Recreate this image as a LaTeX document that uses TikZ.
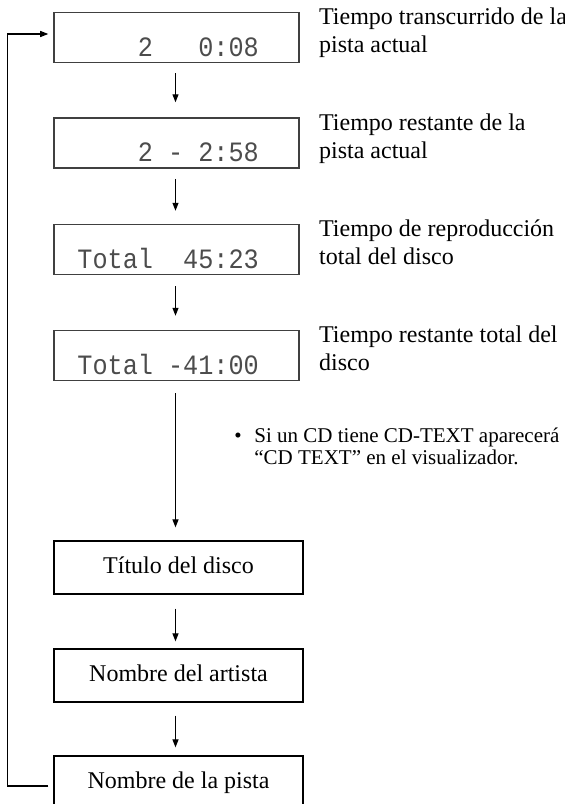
\documentclass[tikz,border=0pt]{standalone}
\usepackage{fontspec}
\setmainfont{Liberation Serif}
\newfontfamily\lcdfont[FakeStretch=0.9]{Liberation Mono}
\usetikzlibrary{arrows.meta}
\begin{document}
\begin{tikzpicture}[x=0.5bp,y=-0.5bp,
  lcdbox/.style={draw=black!75, line width=0.75bp, minimum width=122.5bp, minimum height=25bp, inner sep=0},
  txtbox/.style={draw, line width=0.65bp, minimum width=124.5bp, minimum height=26.5bp, inner sep=0,
    font=\fontsize{12bp}{14bp}\selectfont, text height=8.4bp, text depth=2.4bp},
  lab/.style={anchor=north west, inner sep=0, align=left, font=\fontsize{12bp}{14bp}\selectfont},
  lcd/.style={anchor=base west, inner sep=0, font=\lcdfont\fontsize{14bp}{14bp}\selectfont, text=black!70},
  notetext/.style={anchor=north west, inner sep=0, align=left, font=\fontsize{10.5bp}{11bp}\selectfont},
  arr/.style={line width=0.6bp, -{Triangle[length=4bp,width=3bp]}},
]
\useasboundingbox (0,0) rectangle (565,804);
\clip (0,0) rectangle (565,804);

% boxes
\node[lcdbox] (b1) at (176.5,37.5) {};
\node[lcdbox] (b2) at (176.5,143) {};
\node[lcdbox] (b3) at (176.5,249.5) {};
\node[lcdbox] (b4) at (176.5,355.5) {};
\node[txtbox] (b5) at (178.5,567.5) {Título del disco};
\node[txtbox] (b6) at (178.5,675.5) {Nombre del artista};
\node[txtbox] (b7) at (178.5,782.5) {Nombre de la pista};

% LCD texts
\coordinate (lx) at (77,0);
\node[lcd] (t1) at ([yshift=3.5bp]b1.south -| lx) {~~~~2~~~0:08};
\node[lcd] (t2) at ([yshift=3.5bp]b2.south -| lx) {~~~~2~-~2:58};
\node[lcd] (t3) at ([yshift=3.5bp]b3.south -| lx) {Total~~45:23};
\node[lcd] (t4) at ([yshift=3.5bp]b4.south -| lx) {Total~-41:00};

% side labels
\node[lab] (l1) at ([xshift=9.5bp,yshift=2bp]b1.north east) {Tiempo transcurrido de la\\pista actual};
\node[lab] (l2) at ([xshift=9.5bp,yshift=2bp]b2.north east) {Tiempo restante de la\\pista actual};
\node[lab] (l3) at ([xshift=9.5bp,yshift=2bp]b3.north east) {Tiempo de reproducción\\total del disco};
\node[lab] (l4) at ([xshift=9.5bp,yshift=2bp]b4.north east) {Tiempo restante total del\\disco};

% note
\node[notetext] (note) at (234,427) {\makebox[10bp][l]{•}Si un CD tiene CD-TEXT aparecerá\\\hspace*{10bp}“CD TEXT” en el visualizador.};

% arrows
\coordinate (ax) at (175.5,0);
\draw[arr, shorten <=5bp, shorten >=7.5bp] (b1.south -| ax) -- (b2.north -| ax);
\draw[arr, shorten <=5bp, shorten >=6.5bp] (b2.south -| ax) -- (b3.north -| ax);
\draw[arr, shorten <=5.5bp, shorten >=7bp] (b3.south -| ax) -- (b4.north -| ax);
\draw[arr, shorten <=6bp, shorten >=6.5bp] (b4.south -| ax) -- (b5.north -| ax);
\draw[arr, shorten <=7bp, shorten >=3.5bp] (b5.south -| ax) -- (b6.north -| ax);
\draw[arr, shorten <=6.5bp, shorten >=4bp] (b6.south -| ax) -- (b7.north -| ax);

% loop back
\coordinate (lp) at (7.5,0);
\coordinate (e7) at ([xshift=-2.5bp,yshift=-1.75bp]b7.west);
\coordinate (e1) at ([xshift=-2.5bp,yshift=1.75bp]b1.west);
\draw[arr] (e7) -- (e7 -| lp) -- (e1 -| lp) -- (e1);
\end{tikzpicture}
\end{document}
